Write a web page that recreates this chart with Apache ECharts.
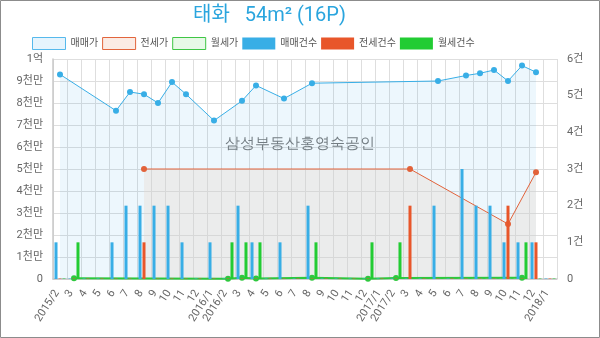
<!DOCTYPE html>
<html>
<head>
<meta charset="utf-8">
<script src="https://cdn.jsdelivr.net/npm/echarts@6/dist/echarts.min.js"></script>
<style>
  html, body { margin: 0; padding: 0; background: #fff; }
  #chart { width: 600px; height: 338px; }
</style>
</head>
<body>
<div id="chart"></div>
<script>
// Month axis: one band per month, 2015/2 .. 2018/1
const monthKeys = [
  '2015/2','2015/3','2015/4','2015/5','2015/6','2015/7','2015/8','2015/9','2015/10','2015/11','2015/12','2016/1',
  '2016/2','2016/3','2016/4','2016/5','2016/6','2016/7','2016/8','2016/9','2016/10','2016/11','2016/12','2017/1',
  '2017/2','2017/3','2017/4','2017/5','2017/6','2017/7','2017/8','2017/9','2017/10','2017/11','2017/12','2018/1'
];
const tickLabels = [
  '2015/2','3','4','5','6','7','8','9','10','11','12','2016/1',
  '2016/2','3','4','5','6','7','8','9','10','11','12','2017/1',
  '2017/2','3','4','5','6','7','8','9','10','11','12','2018/1'
];

// Prices in 만원 (null = no transaction that month)
const salePrice = [
  9300, null, null, null, 7650, 8500, 8400, 8000, 8950, 8400, null, 7200,
  null, 8100, 8800, null, 8200, null, 8900, null, null, null, null, null,
  null, null, null, 9000, null, 9250, 9350, 9500, 9000, 9700, 9400, null
];
const jeonsePrice = [
  null, null, null, null, null, null, 5000, null, null, null, null, null,
  null, null, null, null, null, null, null, null, null, null, null, null,
  null, 5000, null, null, null, null, null, null, 2500, null, 4850, null
];
const wolsePrice = [
  null, 30, null, null, null, null, null, null, null, null, null, null,
  10, 60, 20, null, null, null, 60, null, null, null, 10, null,
  40, null, null, null, null, null, null, null, null, 60, null, null
];

// Transaction counts (건)
const saleCount = [
  1, 0, 0, 0, 1, 2, 2, 2, 2, 1, 0, 1,
  0, 2, 1, 0, 1, 0, 2, 0, 0, 0, 0, 0,
  0, 0, 0, 2, 0, 3, 2, 2, 1, 1, 1, 0
];
const jeonseCount = [
  0, 0, 0, 0, 0, 0, 1, 0, 0, 0, 0, 0,
  0, 0, 0, 0, 0, 0, 0, 0, 0, 0, 0, 0,
  0, 2, 0, 0, 0, 0, 0, 0, 2, 0, 1, 0
];
const wolseCount = [
  0, 1, 0, 0, 0, 0, 0, 0, 0, 0, 0, 0,
  1, 1, 1, 0, 0, 0, 1, 0, 0, 0, 1, 0,
  1, 0, 0, 0, 0, 0, 0, 0, 0, 1, 0, 0
];

const FONT = 'Roboto, "Noto Sans CJK KR", sans-serif';
const C_SALE = '#38aee6', C_JEONSE = '#e2623a', C_WOLSE = '#2ec83e';

const chart = echarts.init(document.getElementById('chart'));
// Empty months keep a faint 1px stub on the baseline
const countItems = arr => arr.map(v => (v === 0 ? { value: 0, itemStyle: { opacity: 0.45 } } : v));

chart.setOption({
  animation: false,
  textStyle: { fontFamily: FONT },
  title: {
    text: '태화   54m² (16P)',
    left: 188, top: 1,
    textStyle: { color: '#2aa5de', fontSize: 20, fontWeight: 'normal', fontFamily: FONT }
  },
  legend: {
    left: 32, top: 37, padding: 0,
    itemWidth: 33, itemHeight: 12, itemGap: 4,
    icon: 'rect',
    textStyle: { color: '#555', fontSize: 10, fontFamily: FONT },
    data: [
      { name: '매매가', itemStyle: { color: '#e6f4fd', borderColor: '#56b9ec', borderWidth: 1 } },
      { name: '전세가', itemStyle: { color: '#fbebe4', borderColor: '#e2653c', borderWidth: 1 } },
      { name: '월세가', itemStyle: { color: '#e7f9e7', borderColor: '#3fc645', borderWidth: 1 } },
      { name: '매매건수', itemStyle: { color: C_SALE } },
      { name: '전세건수', itemStyle: { color: '#e8562a' } },
      { name: '월세건수', itemStyle: { color: '#22cc33' } }
    ]
  },
  grid: [
    { left: 53, right: 43, top: 59, bottom: 59 },
    // label strip for the month ticks, nudged a few px right of the plot's tick lines
    { left: 57, right: 39, top: 59, bottom: 59 }
  ],
  xAxis: [
    {
      type: 'category', data: monthKeys, boundaryGap: true, gridIndex: 0,
      axisLine: { show: true, lineStyle: { color: '#c8c8c8', width: 1.5 } },
      axisTick: { show: false },
      axisLabel: { show: false },
      splitLine: { show: true, interval: 0, lineStyle: { color: '#dedede', width: 1 } }
    },
    {
      type: 'value', min: 0, max: monthKeys.length, interval: 1, position: 'bottom', gridIndex: 1,
      axisLine: { show: false }, axisTick: { show: false }, splitLine: { show: false },
      axisLabel: {
        rotate: 57, margin: 12,
        color: '#666', fontSize: 11, fontFamily: FONT,
        showMaxLabel: false,
        formatter: v => (tickLabels[v] !== undefined ? tickLabels[v] : '')
      }
    }
  ],
  yAxis: [
    {
      type: 'value', min: 0, max: 10000, interval: 1000, gridIndex: 0,
      axisLine: { show: true, lineStyle: { color: '#c8c8c8', width: 1.5 } },
      axisTick: { show: false },
      axisLabel: {
        color: '#666', fontSize: 11, margin: 10, fontFamily: FONT,
        formatter: v => (v === 0 ? '0' : v === 10000 ? '1억' : (v / 1000) + '천만')
      },
      splitLine: { lineStyle: { color: '#dedede', width: 1 } }
    },
    {
      type: 'value', min: 0, max: 6, interval: 1, gridIndex: 0,
      axisLine: { show: false }, axisTick: { show: false }, splitLine: { show: false },
      axisLabel: {
        color: '#666', fontSize: 11, margin: 10, fontFamily: FONT,
        formatter: v => (v === 0 ? '0' : v + '건')
      }
    },
    {
      type: 'value', min: 0, max: 1, gridIndex: 1, show: false
    }
  ],
  graphic: [
    {
      type: 'text', left: 225, top: 136, z: 1,
      style: { text: '삼성부동산홍영숙공인', fontSize: 15, fill: '#7a7a7a', font: '15px ' + FONT }
    },
    {
      type: 'rect', z: 100, silent: true,
      shape: { x: 0.5, y: 0.5, width: 599, height: 337 },
      style: { fill: 'none', stroke: '#8c8c8c', lineWidth: 1 }
    }
  ],
  series: [
    {
      name: '매매가', type: 'line', xAxisIndex: 0, yAxisIndex: 0,
      data: salePrice, connectNulls: true, z: 2,
      symbol: 'circle', symbolSize: 6,
      itemStyle: { color: C_SALE },
      lineStyle: { color: C_SALE, width: 1 },
      areaStyle: { color: 'rgba(41,168,232,0.12)' }
    },
    {
      name: '전세가', type: 'line', xAxisIndex: 0, yAxisIndex: 0,
      data: jeonsePrice, connectNulls: true, z: 2,
      symbol: 'circle', symbolSize: 6,
      itemStyle: { color: C_JEONSE },
      lineStyle: { color: C_JEONSE, width: 1 },
      areaStyle: { color: 'rgba(231,215,208,0.5)' }
    },
    {
      name: '월세가', type: 'line', xAxisIndex: 0, yAxisIndex: 0,
      data: wolsePrice, connectNulls: true, z: 2,
      symbol: 'circle', symbolSize: 6,
      itemStyle: { color: C_WOLSE },
      lineStyle: { color: C_WOLSE, width: 2 }
    },
    {
      name: '매매건수', type: 'bar', xAxisIndex: 0, yAxisIndex: 1, z: 3,
      data: countItems(saleCount), barWidth: 3, barGap: '33%', barMinHeight: 1,
      itemStyle: { color: C_SALE }
    },
    {
      name: '전세건수', type: 'bar', xAxisIndex: 0, yAxisIndex: 1, z: 3,
      data: countItems(jeonseCount), barWidth: 3, barGap: '33%', barMinHeight: 1,
      itemStyle: { color: '#e8562a' }
    },
    {
      name: '월세건수', type: 'bar', xAxisIndex: 0, yAxisIndex: 1, z: 3,
      data: countItems(wolseCount), barWidth: 3, barGap: '33%', barMinHeight: 1,
      itemStyle: { color: '#22cc33' }
    }
  ]
});
</script>
</body>
</html>
